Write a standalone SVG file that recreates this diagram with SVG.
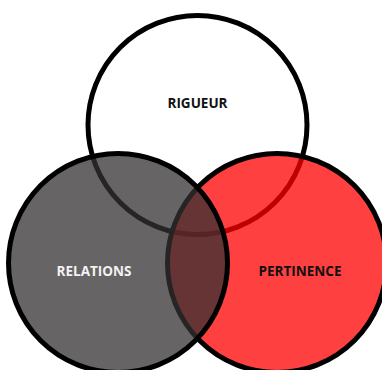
<svg xmlns="http://www.w3.org/2000/svg" width="382" height="370" viewBox="0 0 382 370">
<style>
.c{stroke:#000;stroke-width:5}
.t{font-family:"Open Sans","Liberation Sans",sans-serif;font-weight:bold;font-size:13.5px;text-anchor:middle}
</style>
<rect width="382" height="370" fill="#fff"/>
<g id="rigueur">
<circle class="c" cx="197.5" cy="125" r="109.5" fill="#fff"/>
<text class="t" x="197.5" y="108" fill="#111">RIGUEUR</text>
</g>
<g id="pertinence">
<circle class="c" cx="277" cy="263" r="109.5" fill="#ff0000" fill-opacity="0.75"/>
<text class="t" x="300" y="276" fill="#111">PERTINENCE</text>
</g>
<g id="relations">
<circle class="c" cx="118" cy="263" r="109.5" fill="#343031" fill-opacity="0.75"/>
<text class="t" x="94" y="276" fill="#f2f2f2">RELATIONS</text>
</g>
<g id="connectors"/>
</svg>
